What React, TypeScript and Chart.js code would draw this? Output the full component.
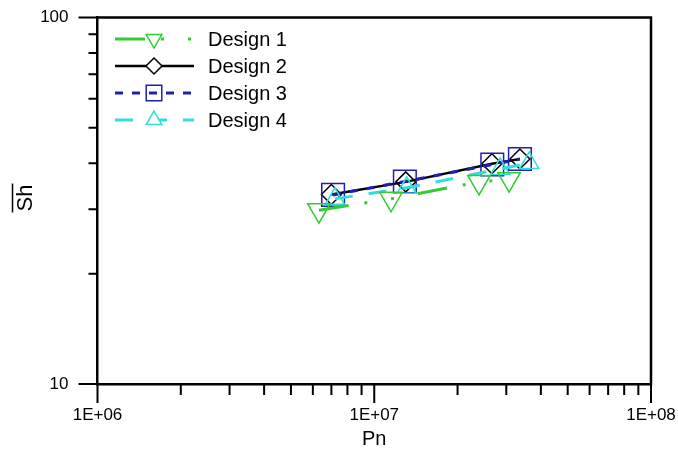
import React, { useEffect, useRef } from 'react';
import { Chart, registerables } from 'chart.js';

Chart.register(...registerables);

// ---- data ----
const design1Pn = [6.31e6, 1.15e7, 2.39e7, 3.07e7];
const design1Sh = [29.8, 32.0, 35.6, 36.2];
const design2Pn = [7.0e6, 1.3e7, 2.66e7, 3.36e7];
const design2Sh = [32.9, 35.6, 39.9, 41.1];
const design3Pn = [7.1e6, 1.29e7, 2.67e7, 3.36e7];
const design3Sh = [32.8, 35.7, 39.7, 41.1];
const design4Pn = [7.21e6, 1.31e7, 2.85e7, 3.63e7];
const design4Sh = [32.0, 34.3, 38.6, 40.1];

const seriesNames = ['Design 1', 'Design 2', 'Design 3', 'Design 4'];

// ---- axis ticks ----
const xMajorValues = [1e6, 1e7, 1e8];
const xMajorLabels = ['1E+06', '1E+07', '1E+08'];
const xMinorValues = [2e6, 3e6, 4e6, 5e6, 6e6, 7e6, 8e6, 9e6, 2e7, 3e7, 4e7, 5e7, 6e7, 7e7, 8e7, 9e7];
const yMajorValues = [10, 100];
const yMajorLabels = ['10', '100'];
const yMinorValues = [20, 30, 40, 50, 60, 70, 80, 90];

const xTitle = 'Pn';
const yTitle = 'Sh';

const FONT = '"Liberation Sans", Arial, sans-serif';

const styles = [
  { color: '#33cc33', dash: [30, 16, 3, 24, 3, 24], width: 3, marker: 'triangleDown', r: 13, lr: 9, lfill: true, order: 1 },
  { color: '#000000', dash: [], width: 2.5, marker: 'rectRot', r: 10, lr: 8, lfill: true, order: 4 },
  { color: '#2020b0', dash: [8, 9], width: 3, marker: 'rect', r: 16, lr: 11, lfill: false, order: 3 },
  { color: '#33dddd', dash: [18, 16], width: 3, marker: 'triangle', r: 11, lr: 9, lfill: true, order: 2 },
];

function toPoints(xs: number[], ys: number[]) {
  return xs.map((x, i) => ({ x, y: ys[i] }));
}

function drawMarker(ctx: CanvasRenderingContext2D, kind: string, x: number, y: number, r: number, fill: boolean) {
  ctx.beginPath();
  if (kind === 'triangle' || kind === 'triangleDown') {
    const rot = kind === 'triangleDown' ? Math.PI : 0;
    for (let k = 0; k < 3; k++) {
      const a = rot + (k * 2 * Math.PI) / 3;
      const px = x + Math.sin(a) * r;
      const py = y - Math.cos(a) * r;
      if (k === 0) ctx.moveTo(px, py);
      else ctx.lineTo(px, py);
    }
    ctx.closePath();
  } else if (kind === 'rectRot') {
    ctx.moveTo(x, y - r);
    ctx.lineTo(x + r, y);
    ctx.lineTo(x, y + r);
    ctx.lineTo(x - r, y);
    ctx.closePath();
  } else {
    const h = r * Math.SQRT1_2;
    ctx.rect(x - h, y - h, 2 * h, 2 * h);
  }
  if (fill) ctx.fill();
  ctx.stroke();
}

const decorPlugin = {
  id: 'decor',
  afterDraw(chart: any) {
    const ctx: CanvasRenderingContext2D = chart.ctx;
    const { left, right, top, bottom } = chart.chartArea;
    const xs = chart.scales.x;
    const ys = chart.scales.y;
    ctx.save();
    ctx.strokeStyle = '#000';
    ctx.setLineDash([]);
    // frame top / right
    ctx.lineWidth = 2.5;
    ctx.beginPath();
    ctx.moveTo(left - 1.2, top);
    ctx.lineTo(right, top);
    ctx.lineTo(right, bottom + 1.2);
    ctx.stroke();
    // ticks
    ctx.lineWidth = 2;
    ctx.beginPath();
    xMajorValues.forEach((v) => {
      const px = xs.getPixelForValue(v);
      ctx.moveTo(px, bottom);
      ctx.lineTo(px, bottom + 19);
    });
    xMinorValues.forEach((v) => {
      const px = xs.getPixelForValue(v);
      ctx.moveTo(px, bottom);
      ctx.lineTo(px, bottom + 11);
    });
    yMajorValues.forEach((v) => {
      const py = ys.getPixelForValue(v);
      ctx.moveTo(left, py);
      ctx.lineTo(left - 19, py);
    });
    yMinorValues.forEach((v) => {
      const py = ys.getPixelForValue(v);
      ctx.moveTo(left, py);
      ctx.lineTo(left - 9, py);
    });
    ctx.stroke();

    // y title with overline
    ctx.save();
    ctx.translate(32, 198);
    ctx.rotate(-Math.PI / 2);
    ctx.font = `22px ${FONT}`;
    ctx.fillStyle = '#000';
    ctx.textAlign = 'center';
    ctx.textBaseline = 'alphabetic';
    ctx.fillText(yTitle, 0, 0);
    const w = ctx.measureText(yTitle).width;
    ctx.lineWidth = 1.5;
    ctx.beginPath();
    ctx.moveTo(-w / 2 - 1, -19.5);
    ctx.lineTo(w / 2 + 1, -19.5);
    ctx.stroke();
    ctx.restore();

    // legend
    const rows = [39, 66, 93, 120];
    seriesNames.forEach((name, i) => {
      const s = styles[i];
      const y = rows[i];
      ctx.strokeStyle = s.color;
      ctx.lineWidth = s.width;
      ctx.setLineDash(s.dash);
      ctx.lineDashOffset = 0;
      ctx.beginPath();
      ctx.moveTo(115, y);
      ctx.lineTo(194, y);
      ctx.stroke();
      ctx.setLineDash([]);
      ctx.lineWidth = 1.5;
      ctx.fillStyle = '#fff';
      drawMarker(ctx, s.marker, 154, y, s.lr, s.lfill);
      ctx.fillStyle = '#000';
      ctx.font = `20px ${FONT}`;
      ctx.textAlign = 'left';
      ctx.textBaseline = 'middle';
      ctx.fillText(name, 208, y + 1);
    });
    ctx.restore();
  },
};

export default function App() {
  const ref = useRef<HTMLCanvasElement | null>(null);
  useEffect(() => {
    if (!ref.current) return;
    const xsList = [design1Pn, design2Pn, design3Pn, design4Pn];
    const ysList = [design1Sh, design2Sh, design3Sh, design4Sh];
    const datasets = seriesNames.map((name, i) => {
      const s = styles[i];
      return {
        label: name,
        data: toPoints(xsList[i], ysList[i]),
        order: s.order,
        showLine: true,
        borderColor: s.color,
        borderWidth: s.width,
        borderDash: s.dash,
        tension: 0,
        pointStyle: s.marker === 'triangleDown' ? 'triangle' : s.marker,
        pointRotation: s.marker === 'triangleDown' ? 180 : 0,
        pointRadius: s.r,
        pointBorderColor: s.color,
        pointBackgroundColor: 'rgba(0,0,0,0)',
        pointBorderWidth: 1.5,
      };
    });
    const chart = new Chart(ref.current, {
      type: 'scatter',
      data: { datasets },
      plugins: [decorPlugin],
      options: {
        responsive: true,
        maintainAspectRatio: false,
        animation: false,
        layout: { padding: { top: 16, right: 27, left: 0, bottom: 0 } },
        plugins: { legend: { display: false }, tooltip: { enabled: false } },
        scales: {
          x: {
            type: 'logarithmic',
            position: 'bottom',
            min: 1e6,
            max: 1e8,
            afterBuildTicks: (s: any) => {
              s.ticks = [...xMajorValues, ...xMinorValues].sort((a, b) => a - b).map((v) => ({ value: v }));
            },
            afterFit: (s: any) => {
              s.height = 71;
            },
            grid: { display: true, drawOnChartArea: false, drawTicks: true, tickLength: 21, tickColor: 'rgba(0,0,0,0)' },
            border: { display: true, color: '#000', width: 2.5 },
            ticks: {
              autoSkip: false,
              maxRotation: 0,
              padding: 0,
              color: '#000',
              font: { family: FONT, size: 17 },
              callback: (v: any) => {
                const i = xMajorValues.indexOf(Number(v));
                return i >= 0 ? xMajorLabels[i] : '';
              },
            },
            title: {
              display: true,
              text: xTitle,
              color: '#000',
              font: { family: FONT, size: 20 },
              padding: { top: 0, bottom: 4 },
            },
          },
          y: {
            type: 'logarithmic',
            min: 10,
            max: 100,
            afterBuildTicks: (s: any) => {
              s.ticks = [...yMajorValues, ...yMinorValues].sort((a, b) => a - b).map((v) => ({ value: v }));
            },
            afterFit: (s: any) => {
              s.width = 97.5;
            },
            grid: { display: true, drawOnChartArea: false, drawTicks: true, tickLength: 29, tickColor: 'rgba(0,0,0,0)' },
            border: { display: true, color: '#000', width: 2.5 },
            ticks: {
              autoSkip: false,
              padding: 0,
              color: '#000',
              font: { family: FONT, size: 17 },
              callback: (v: any) => {
                const i = yMajorValues.indexOf(Number(v));
                return i >= 0 ? yMajorLabels[i] : '';
              },
            },
          },
        },
      },
    } as any);
    return () => chart.destroy();
  }, []);
  return (
    <div style={{ position: 'absolute', left: 0, top: 0, width: 678, height: 455 }}>
      <canvas ref={ref} />
    </div>
  );
}
